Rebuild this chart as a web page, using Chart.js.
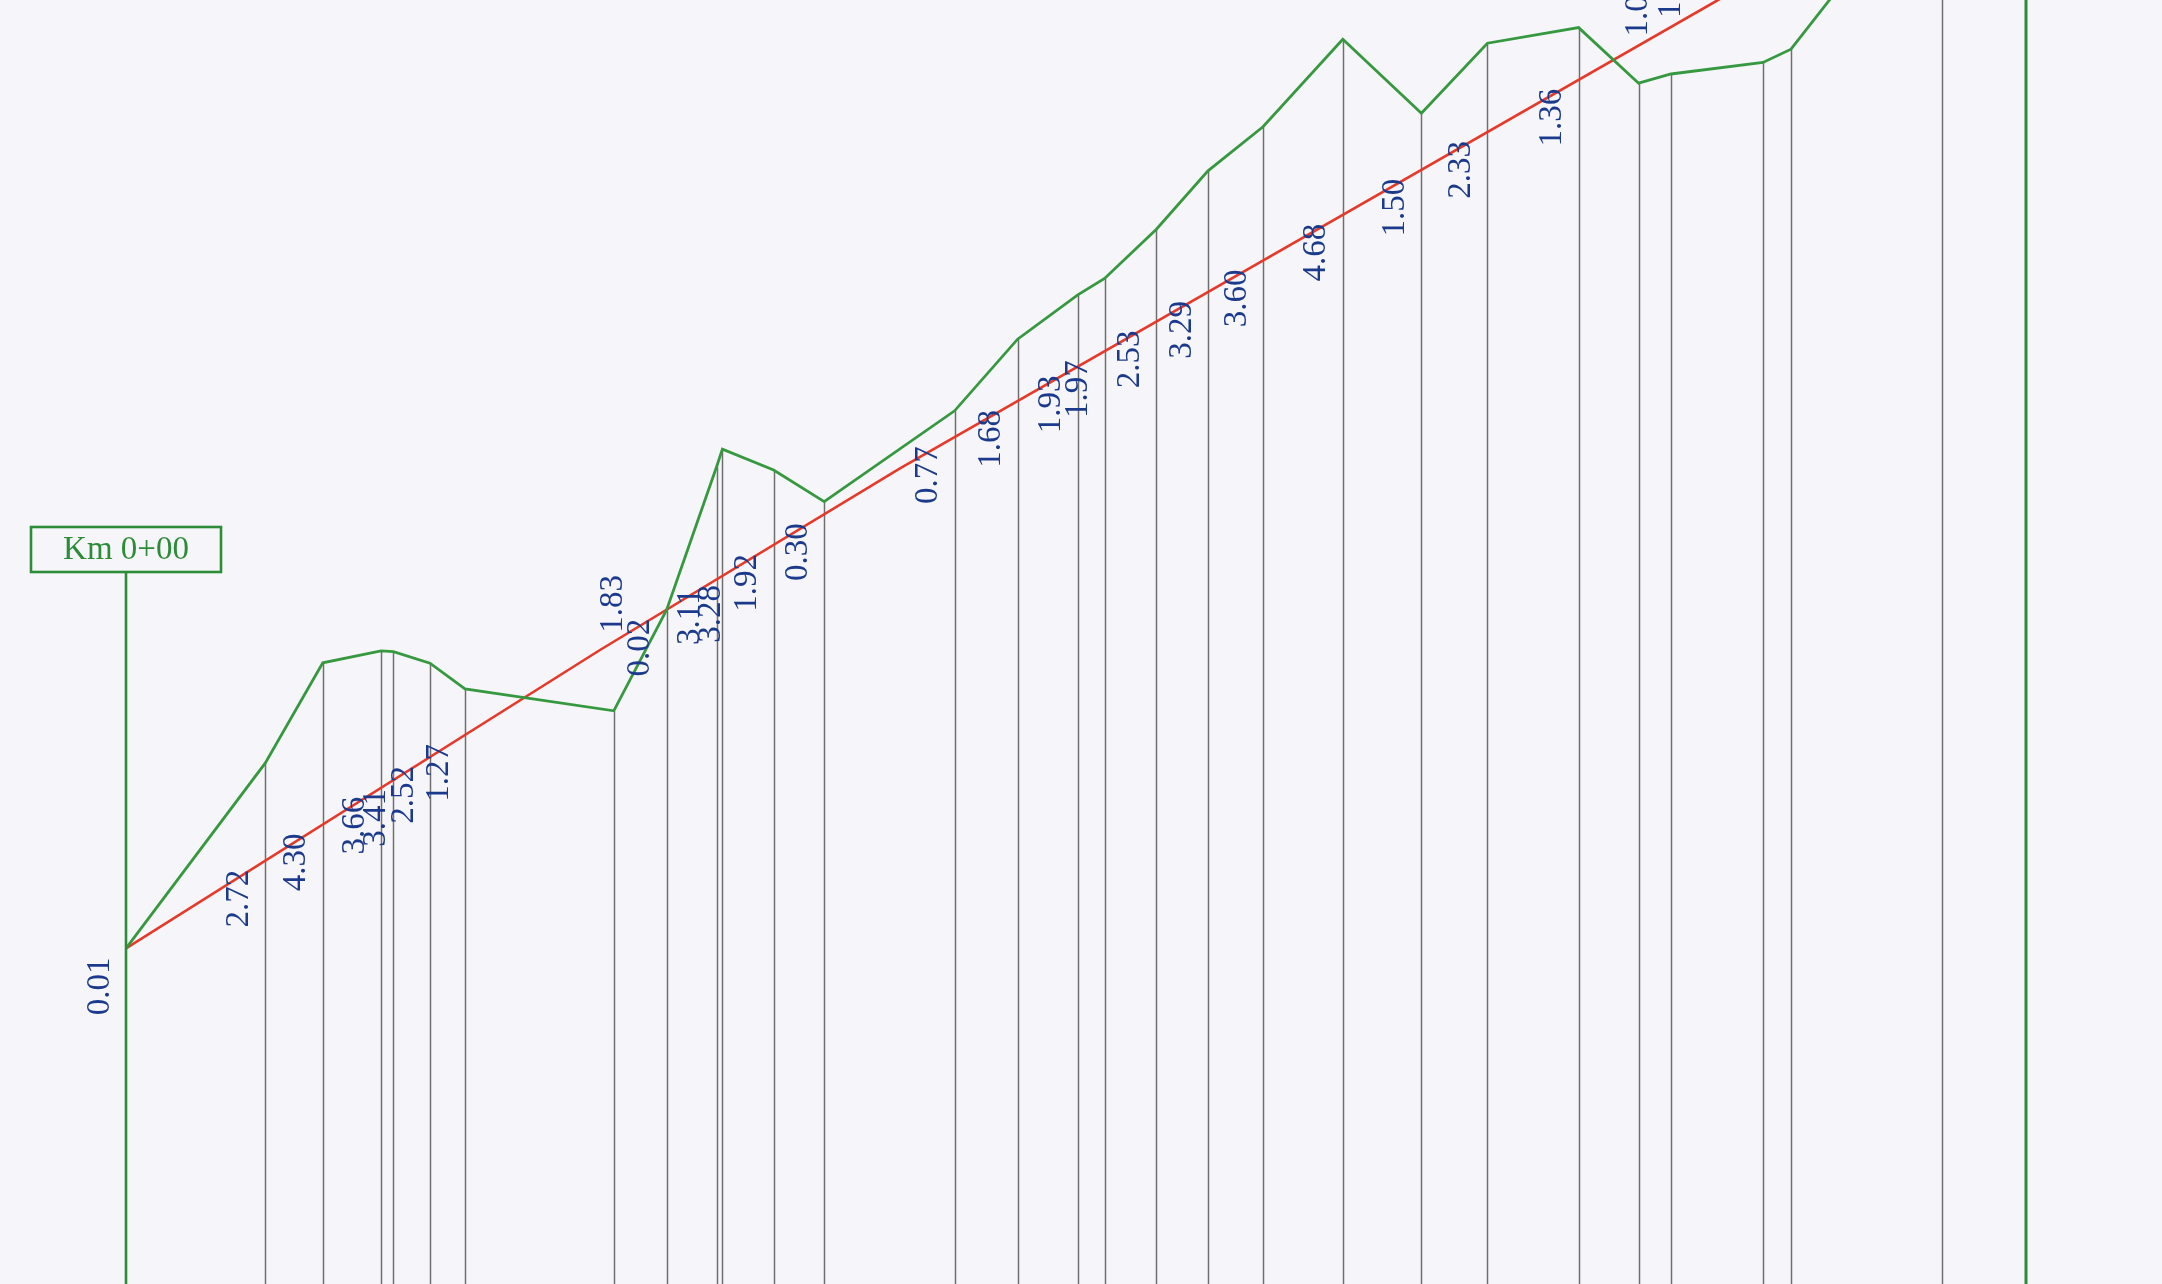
<!DOCTYPE html>
<html>
<head>
<meta charset="utf-8">
<title>Profil en long</title>
<script src="https://cdn.jsdelivr.net/npm/chart.js@4.4.1/dist/chart.umd.min.js"></script>
<style>
  html, body { margin: 0; padding: 0; background: #f6f6fa; }
  canvas { display: block; }
</style>
</head>
<body>
<canvas id="profile" width="2162" height="1284"></canvas>
<script>
"use strict";
// chainage (m) from Km 0+00 and natural ground level (m)
var stations = [0, 69.6, 98.4, 127.5, 133.7, 152.0, 169.5, 243.9, 270.3, 295.3, 298.2, 323.8, 349.1,
    414.3, 445.8, 475.9, 489.3, 515.2, 541.0, 568.5, 608.4, 647.7, 680.7, 726.3, 756.3, 772.5, 818.5, 832.5, 908];
var groundLevels = [108.39, 113.02, 115.53, 115.83, 115.81, 115.52, 114.88, 114.33, 116.85, 120.43, 120.87, 120.35, 119.56,
    121.83, 123.62, 124.73, 125.14, 126.37, 127.83, 128.93, 131.12, 129.27, 131.02, 131.41, 130.02, 130.25, 130.54, 130.87, 135.7];
// cut (+) / fill (-) depth written at each station, null where off the sheet
var depths = [0.01, 2.72, 4.30, 3.66, 3.41, 2.52, 1.27, -1.83, 0.02, 3.11, 3.28, 1.92, 0.30,
    0.77, 1.68, 1.93, 1.97, 2.53, 3.29, 3.60, 4.68, 1.50, 2.33, 1.36, -1.05, -1.12, null, null, null];
// project grade line
var gradeStations = [0, 237, 387, 796, 908];
var gradeLevels = [108.39, 115.85, 120.39, 132.1, 135.3];
var startLabel = "Km 0+00";
var endStation = 950;

var GREEN = "#36983f", FRAME_GREEN = "#2c8c37", RED = "#e5392a", BLUE = "#1c3a8c", GREY = "#6f6f6f";

function gradeAt(ch) {
    for (var i = 1; i < gradeStations.length; i++) {
        if (ch <= gradeStations[i]) {
            var t = (ch - gradeStations[i - 1]) / (gradeStations[i] - gradeStations[i - 1]);
            return gradeLevels[i - 1] + t * (gradeLevels[i] - gradeLevels[i - 1]);
        }
    }
    return gradeLevels[gradeLevels.length - 1];
}

var profilePlugin = {
    id: "profile",
    beforeDatasetsDraw: function (chart) {
        var ctx = chart.ctx, xs = chart.scales.x, ys = chart.scales.y, area = chart.chartArea;
        ctx.save();
        // station verticals
        ctx.strokeStyle = GREY;
        ctx.lineWidth = 1.5;
        for (var i = 1; i < stations.length; i++) {
            var x = Math.round(xs.getPixelForValue(stations[i])) + 0.5;
            ctx.beginPath();
            ctx.moveTo(x, ys.getPixelForValue(groundLevels[i]));
            ctx.lineTo(x, area.bottom);
            ctx.stroke();
        }
        // end of section line
        ctx.strokeStyle = FRAME_GREEN;
        ctx.lineWidth = 3;
        var xe = xs.getPixelForValue(endStation);
        ctx.beginPath();
        ctx.moveTo(xe, area.top);
        ctx.lineTo(xe, area.bottom);
        ctx.stroke();
        ctx.restore();
    },
    afterDatasetsDraw: function (chart) {
        var ctx = chart.ctx, xs = chart.scales.x, ys = chart.scales.y, area = chart.chartArea;
        ctx.save();
        // Km box and start line
        var x0 = xs.getPixelForValue(stations[0]);
        var boxW = 190, boxH = 45, boxTop = 527;
        ctx.strokeStyle = FRAME_GREEN;
        ctx.lineWidth = 2.6;
        ctx.beginPath();
        ctx.moveTo(x0, boxTop + boxH);
        ctx.lineTo(x0, area.bottom);
        ctx.stroke();
        ctx.strokeRect(x0 - boxW / 2, boxTop, boxW, boxH);
        ctx.fillStyle = FRAME_GREEN;
        ctx.font = "33px 'Liberation Serif', serif";
        ctx.textAlign = "center";
        ctx.textBaseline = "middle";
        ctx.fillText(startLabel, x0, boxTop + boxH / 2 + 1);

        // depth labels, pushed right when two cut labels would collide
        ctx.fillStyle = BLUE;
        ctx.font = "33px 'Liberation Serif', serif";
        var lastCutX = -1e9;
        for (var i = 0; i < stations.length; i++) {
            var d = depths[i];
            if (d === null) continue;
            var x = xs.getPixelForValue(stations[i]);
            var gy = ys.getPixelForValue(gradeAt(stations[i]));
            var txt = Math.abs(d).toFixed(2);
            ctx.save();
            if (d >= 0) {
                var lx = Math.max(x - 26, lastCutX + 21);
                lastCutX = lx;
                ctx.translate(lx, gy + 9);
                ctx.rotate(-Math.PI / 2);
                ctx.textAlign = "right";
            } else {
                ctx.translate(x, gy - 9);
                ctx.rotate(-Math.PI / 2);
                ctx.textAlign = "left";
            }
            ctx.textBaseline = "middle";
            ctx.fillText(txt, 0, 0);
            ctx.restore();
        }
        ctx.restore();
    }
};

var groundData = stations.map(function (s, i) { return { x: s, y: groundLevels[i] }; });
var gradeData = gradeStations.map(function (s, i) { return { x: s, y: gradeLevels[i] }; });

new Chart(document.getElementById("profile"), {
    type: "line",
    data: {
        datasets: [{
            label: "Terrain naturel",
            data: groundData,
            borderColor: GREEN,
            borderWidth: 2.8,
            pointRadius: 0,
            tension: 0,
            fill: false
        }, {
            label: "Ligne projet",
            data: gradeData,
            borderColor: RED,
            borderWidth: 2.6,
            pointRadius: 0,
            tension: 0,
            fill: false
        }]
    },
    options: {
        responsive: false,
        animation: false,
        events: [],
        layout: { padding: 0 },
        plugins: { legend: { display: false }, tooltip: { enabled: false } },
        scales: {
            x: { type: "linear", min: -63, max: 1018, display: false },
            y: { type: "linear", min: 100, max: 132.1, display: false }
        }
    },
    plugins: [profilePlugin]
});
</script>
</body>
</html>
